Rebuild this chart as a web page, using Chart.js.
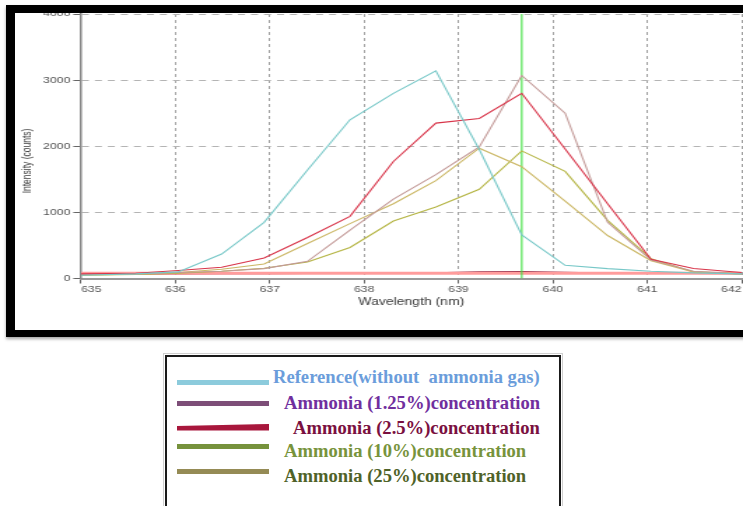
<!DOCTYPE html>
<html>
<head>
<meta charset="utf-8">
<script src="https://cdn.jsdelivr.net/npm/chart.js"></script>
<style>
  html, body { margin: 0; padding: 0; background: #fff; overflow: hidden; }
  body { width: 743px; height: 506px; position: relative; }
  /* the chart is drawn narrow and stretched sideways, like the source screenshot */
  #spectrum { position: absolute; left: 0; top: 0; }
  .frame {
    position: absolute; left: 6px; top: 5px; width: 760px; height: 332px;
    box-sizing: border-box;
    border-top: 8px solid #000; border-left: 9px solid #000; border-bottom: 7px solid #000;
    box-shadow: 0 2px 3px rgba(0, 0, 0, .35);
    pointer-events: none;
  }
  .legend-box {
    position: absolute; left: 165px; top: 355px; width: 396px; height: 170px;
    box-sizing: border-box; border: 2px solid #1a1a1a;
    outline: 1px solid #cfcfcf; outline-offset: 1px;
  }
  .key { position: absolute; left: 177px; width: 92px; height: 5px; }
  .label {
    position: absolute; white-space: pre;
    font: bold 18.6px "Liberation Serif", "Times New Roman", serif; line-height: 18.6px;
  }
</style>
</head>
<body>
  <canvas id="spectrum" width="531" height="336" style="width:743px; height:336px;"></canvas>
  <div class="frame"></div>

  <div class="legend-box"></div>
  <div class="key" style="top:379.5px; background:#8ccbdc;"></div>
  <div class="key" style="top:401px; background:#7d4e78;"></div>
  <div class="key" style="top:424px; height:6.5px; background:#a8173c; clip-path:polygon(0 30%, 100% 0, 100% 100%, 0 100%);"></div>
  <div class="key" style="top:444px; background:#76923c;"></div>
  <div class="key" style="top:469px; background:#958b55;"></div>

  <div class="label" style="left:273px; top:368.4px; color:#6b9ddb;">Reference(without  ammonia gas)</div>
  <div class="label" style="left:284px; top:393.7px; color:#702f9e;">Ammonia (1.25%)concentration</div>
  <div class="label" style="left:293px; top:418.7px; color:#7a1040;">Ammonia (2.5%)concentration</div>
  <div class="label" style="left:284px; top:442.1px; color:#77933c;">Ammonia (10%)concentration</div>
  <div class="label" style="left:284px; top:467.1px; color:#4f6228;">Ammonia (25%)concentration</div>

<script>
// wavelength of every sample (nm)
const wavelengths = [635.0, 635.58, 636.03, 636.49, 636.94, 637.4, 637.85, 638.31,
                     638.76, 639.22, 639.67, 640.13, 640.58, 641.04, 641.49, 642.0];

// intensity (counts) of each spectrum
const referenceCounts = [50, 70, 100, 370, 850, 1640, 2400, 2800, 3140, 1950, 660, 200, 150, 110, 85, 70];
const redCounts       = [70, 80, 120, 170, 310, 620, 940, 1770, 2350, 2420, 2800, 1960, 1130, 290, 150, 90];
const roseCounts      = [60, 70, 90, 110, 150, 260, 730, 1200, 1570, 1990, 3070, 2500, 850, 280, 110, 70];
const khakiCounts     = [55, 65, 90, 140, 220, 530, 830, 1130, 1480, 1970, 1690, 1170, 650, 270, 100, 70];
const oliveCounts     = [50, 60, 80, 110, 155, 250, 470, 870, 1080, 1350, 1930, 1620, 880, 300, 100, 70];
const lowCounts       = [60, 65, 70, 72, 74, 76, 78, 80, 85, 100, 105, 95, 82, 78, 75, 72];

// green cursor line and pink base line
const cursorX = [639.67, 639.67];
const cursorY = [0, 4000];
const baseX = [635, 642];
const baseY = [78, 78];

// axis ticks
const xTicks = [635, 636, 637, 638, 639, 640, 641, 642];
const yTicks = [0, 1000, 2000, 3000, 4000];

const toPoints = (xs, ys) => xs.map((x, i) => ({ x: x, y: ys[i] }));

const line = (data, color, width) => ({
  data: data,
  borderColor: color,
  borderWidth: width || 1.1,
  pointRadius: 0,
  tension: 0,
  fill: false
});

// axis title drawn a bit below the middle, where the original has it
const yTitle = {
  id: 'yTitle',
  afterDraw(chart) {
    const ctx = chart.ctx;
    ctx.save();
    ctx.translate(19.3, 161);
    ctx.rotate(-Math.PI / 2);
    ctx.font = '8.5px "Liberation Sans", Arial, sans-serif';
    ctx.fillStyle = '#444';
    ctx.textAlign = 'center';
    ctx.textBaseline = 'middle';
    ctx.fillText('Intensity (counts)', 0, 0);
    ctx.restore();
  }
};

const tickFont = { family: '"Liberation Sans", Arial, sans-serif', size: 8.8 };

// first dataset ends up on top
new Chart(document.getElementById('spectrum'), {
  type: 'line',
  data: {
    datasets: [
      line(toPoints(wavelengths, referenceCounts), '#78c8c8'),
      line(toPoints(wavelengths, redCounts), '#d8354a'),
      line(toPoints(wavelengths, roseCounts), '#c39a98'),
      line(toPoints(wavelengths, khakiCounts), '#cbb765'),
      line(toPoints(wavelengths, oliveCounts), '#b5b545'),
      line(toPoints(cursorX, cursorY), '#3ee03e', 1.1),
      line(toPoints(baseX, baseY), '#ff9c9c', 3),
      line(toPoints(wavelengths, lowCounts), '#8a2040')
    ]
  },
  options: {
    responsive: false,
    animation: false,
    devicePixelRatio: 1,
    layout: { padding: { top: 14, right: 1, bottom: 0, left: 0 } },
    plugins: {
      legend: { display: false },
      tooltip: { enabled: false }
    },
    scales: {
      x: {
        type: 'linear',
        min: xTicks[0],
        max: xTicks[xTicks.length - 1],
        afterBuildTicks: (scale) => { scale.ticks = xTicks.map(v => ({ value: v })); },
        ticks: {
          align: 'inner',
          padding: 1,
          color: '#555',
          font: tickFont,
          callback: (v) => String(v)
        },
        grid: { color: '#a2a2a2', lineWidth: 1, tickLength: 5, tickColor: '#666' },
        border: { color: '#9a9a9a', width: 2, dash: [3, 3] },
        title: {
          display: true,
          text: 'Wavelength (nm)',
          color: '#3a3a3a',
          font: { family: '"Liberation Sans", Arial, sans-serif', size: 10 },
          padding: { top: 0, bottom: 28 }
        },
        afterFit: (scale) => {
          scale.height = 57.5;
          scale.paddingLeft = 0;
          scale.paddingRight = 0;
        }
      },
      y: {
        min: yTicks[0],
        max: yTicks[yTicks.length - 1],
        afterBuildTicks: (scale) => { scale.ticks = yTicks.map(v => ({ value: v })); },
        ticks: {
          padding: 2,
          color: '#555',
          font: tickFont,
          callback: (v) => String(v)
        },
        grid: { color: '#b4b4b4', lineWidth: 1, tickLength: 5.5, tickColor: '#666' },
        border: { color: '#888', width: 1.5, dash: [5, 4.3] },
        afterFit: (scale) => {
          scale.width = 57.9;
          scale.paddingTop = 0;
          scale.paddingBottom = 0;
        }
      }
    }
  },
  plugins: [yTitle]
});
</script>
</body>
</html>
